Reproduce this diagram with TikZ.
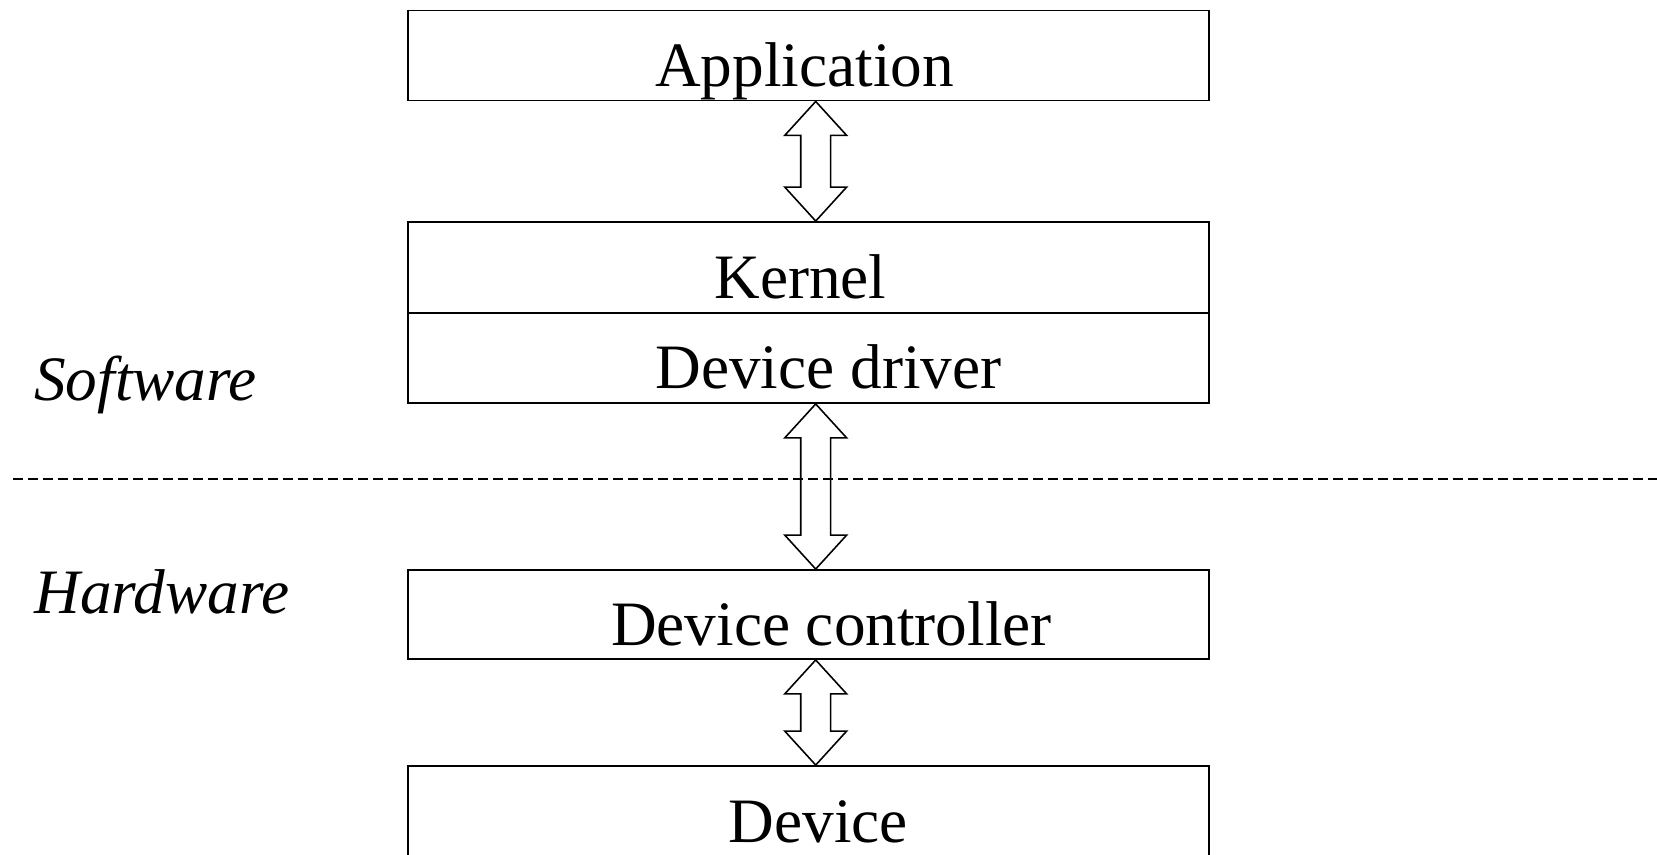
\documentclass[tikz,border=0pt]{standalone}
\usepackage{fontspec}
\setmainfont{Liberation Serif}
\usetikzlibrary{calc}

\tikzset{
  layerbox/.style={draw, line width=1.1pt, minimum width=16.02cm, minimum height=1.8cm,
    inner sep=0pt, text height=35pt, text depth=0pt, font=\fontsize{36}{43}\selectfont},
  nudge/.style={execute at begin node={\hspace*{#1}}, execute at end node={\hspace*{-#1}}},
  sidelabel/.style={anchor=base west, inner sep=0pt, font=\fontsize{36}{43}\selectfont\itshape},
  updown/.style={line width=0.9pt, to path={let \p1=(\tikztostart), \p2=(\tikztotarget) in
    (\x1,\y1) -- (\x1+0.62cm,\y1-0.68cm) -- (\x1+0.3cm,\y1-0.68cm) -- (\x1+0.3cm,\y2+0.68cm)
    -- (\x1+0.62cm,\y2+0.68cm) -- (\x1,\y2) -- (\x1-0.62cm,\y2+0.68cm) -- (\x1-0.3cm,\y2+0.68cm)
    -- (\x1-0.3cm,\y1-0.68cm) -- (\x1-0.62cm,\y1-0.68cm) -- cycle}}
}

\begin{document}
\begin{tikzpicture}[x=0.02cm, y=-0.02cm]
                \useasboundingbox (0,0) rectangle (1657,855);

                % layers
                \node[layerbox, nudge=-0.08cm] (app) at (808.5,55.5) {Application};
                \node[layerbox, nudge=-0.16cm, minimum height=1.82cm] (kernel) at (808.5,267.5) {Kernel};
                \node[layerbox, nudge=0.4cm] (driver) at (808.5,358) {Device driver};
                \node[layerbox, nudge=0.46cm, minimum height=1.78cm] (ctrl) at (808.5,614.5) {Device controller};
                \node[layerbox, nudge=0.2cm, minimum height=1.84cm] (dev) at (808.5,812) {Device};

                % side labels
                \node[sidelabel] (sw) at (34,400) {Software};
                \node[sidelabel] (hw) at (34,613) {Hardware};

                % boundary
                \coordinate (dl) at (13,479);
                \coordinate (dr) at (1657,479);
                \coordinate (ax) at (815.7,479);

                \draw[updown] (app.south -| ax) to (kernel.north -| ax);
                \draw[updown] (driver.south -| ax) to (ctrl.north -| ax);
                \draw[updown] (ctrl.south -| ax) to (dev.north -| ax);

                \draw[line width=1.1pt, dash pattern=on 0.2cm off 0.1cm] (dl) -- (dr);

            \end{tikzpicture}
\end{document}
